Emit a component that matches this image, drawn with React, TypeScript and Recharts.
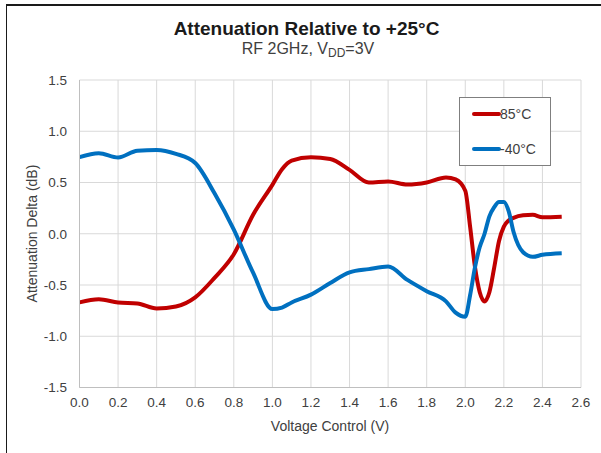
import React from 'react';
import { LineChart, Line, XAxis, YAxis, CartesianGrid, Legend } from 'recharts';

const voltage = [
  0, 0.1, 0.2, 0.3, 0.4, 0.5, 0.6, 0.7, 0.8, 0.9, 1.0, 1.05, 1.1, 1.2, 1.3, 1.4, 1.5, 1.6, 1.7, 1.8,
  1.9, 1.95, 2.0, 2.025, 2.05, 2.075, 2.1, 2.125, 2.15, 2.175, 2.2, 2.225, 2.25, 2.3, 2.35, 2.4, 2.5,
];
const delta85 = [
  -0.67, -0.64, -0.67, -0.68, -0.73, -0.71, -0.62, -0.43, -0.2, 0.185, 0.477, 0.63, 0.714, 0.747, 0.73,
  0.623, 0.5, 0.51, 0.48, 0.5, 0.55, 0.53, 0.42, 0.07, -0.32, -0.57, -0.66, -0.57, -0.33, -0.07, 0.07,
  0.13, 0.155, 0.18, 0.185, 0.16, 0.165,
];
const deltaMinus40 = [
  0.747, 0.786, 0.744, 0.81, 0.818, 0.78, 0.69, 0.395, 0.04, -0.38, -0.735, -0.72, -0.67, -0.594, -0.48,
  -0.377, -0.345, -0.32, -0.45, -0.56, -0.66, -0.77, -0.81, -0.6, -0.33, -0.13, 0.0, 0.17, 0.26, 0.31, 0.31,
  0.22, 0.02, -0.18, -0.225, -0.205, -0.19,
];
const seriesNames = ['85°C', '-40°C'];
const xTicks = [0, 0.2, 0.4, 0.6, 0.8, 1.0, 1.2, 1.4, 1.6, 1.8, 2.0, 2.2, 2.4, 2.6];
const yTicks = [-1.5, -1.0, -0.5, 0, 0.5, 1.0, 1.5];

const RED = '#C00000';
const BLUE = '#0070C0';
const FONT = '"Liberation Sans", Arial, sans-serif';
const TXT = '#404040';

const data = voltage.map((v, i) => ({ v, hot: delta85[i], cold: deltaMinus40[i] }));

const LegendBox = (props: any) => {
  const colors = [RED, BLUE];
  const payload = (props && props.payload) || [];
  const items = seriesNames.map((name, i) => {
    const found = payload.find((p: any) => p.value === name);
    return { value: name, color: found && found.color ? found.color : colors[i] };
  });
  return (
    <svg width={92} height={69} style={{ display: 'block' }}>
      <rect x={0.5} y={0.5} width={91} height={68} fill="#fff" stroke="#7f7f7f" strokeWidth={1} />
      {items.map((it, i) => (
        <g key={i}>
          <line x1={15} x2={40} y1={17 + i * 35} y2={17 + i * 35} stroke={it.color} strokeWidth={4} strokeLinecap="round" />
          <text x={41} y={17 + i * 35} dy="0.36em" fontSize={14} fill={TXT} fontFamily={FONT}>
            {it.value}
          </text>
        </g>
      ))}
    </svg>
  );
};

export default function App() {
  return (
    <div style={{ position: 'absolute', left: 0, top: 0, width: 601, height: 453, background: '#fff', overflow: 'hidden' }}>
      <div
        style={{
          position: 'absolute',
          left: 6,
          top: 4,
          width: 700,
          height: 600,
          borderLeft: '1.5px solid #1a1a1a',
          borderTop: '2px solid #1a1a1a',
        }}
      />
      <div style={{ position: 'absolute', left: 0, top: 0 }}>
        <LineChart width={601} height={453} data={data} margin={{ top: 80, right: 20, bottom: 0, left: 0 }}>
          <CartesianGrid stroke="#D9D9D9" strokeWidth={1} />
          <XAxis
            dataKey="v"
            type="number"
            domain={[0, 2.6]}
            ticks={xTicks}
            tickFormatter={(t: number) => t.toFixed(1)}
            height={65.5}
            axisLine={{ stroke: '#BFBFBF' }}
            tickLine={false}
            tickSize={0}
            tickMargin={10}
            interval={0}
            tick={{ fontSize: 13.5, fill: TXT, fontFamily: FONT }}
          />
          <YAxis
            type="number"
            domain={[-1.5, 1.5]}
            ticks={yTicks}
            tickFormatter={(t: number) => t.toFixed(1)}
            width={79.5}
            axisLine={{ stroke: '#BFBFBF' }}
            tickLine={false}
            tickSize={0}
            tickMargin={12.5}
            interval={0}
            tick={{ fontSize: 13.5, fill: TXT, fontFamily: FONT }}
          />
          <Legend
            layout="horizontal"
            verticalAlign="middle"
            align="center"
            wrapperStyle={{ left: 459, top: 97, width: 92, height: 69 }}
            content={(p: any) => <LegendBox {...p} />}
          />
          <Line
            name={seriesNames[0]}
            dataKey="hot"
            type="monotone"
            stroke={RED}
            strokeWidth={4}
            dot={false}
            isAnimationActive={false}
          />
          <Line
            name={seriesNames[1]}
            dataKey="cold"
            type="monotone"
            stroke={BLUE}
            strokeWidth={4}
            dot={false}
            isAnimationActive={false}
          />
        </LineChart>
      </div>
      <svg width={601} height={453} style={{ position: 'absolute', left: 0, top: 0, pointerEvents: 'none' }}>
        <text x={306.5} y={35} textAnchor="middle" fontSize={19} fontWeight="bold" fill="#1a1a1a" fontFamily={FONT}>
          Attenuation Relative to +25°C
        </text>
        <text x={308} y={54} textAnchor="middle" fontSize={16} fill={TXT} fontFamily={FONT}>
          RF 2GHz, V
          <tspan fontSize={12} dy={3}>DD</tspan>
          <tspan dy={-3}>=3V</tspan>
        </text>
        <text
          x={0}
          y={0}
          transform="translate(37 233.5) rotate(-90)"
          textAnchor="middle"
          fontSize={14}
          fill={TXT}
          fontFamily={FONT}
        >
          Attenuation Delta (dB)
        </text>
        <text x={330} y={431} textAnchor="middle" fontSize={14} fill={TXT} fontFamily={FONT}>
          Voltage Control (V)
        </text>
      </svg>
    </div>
  );
}
